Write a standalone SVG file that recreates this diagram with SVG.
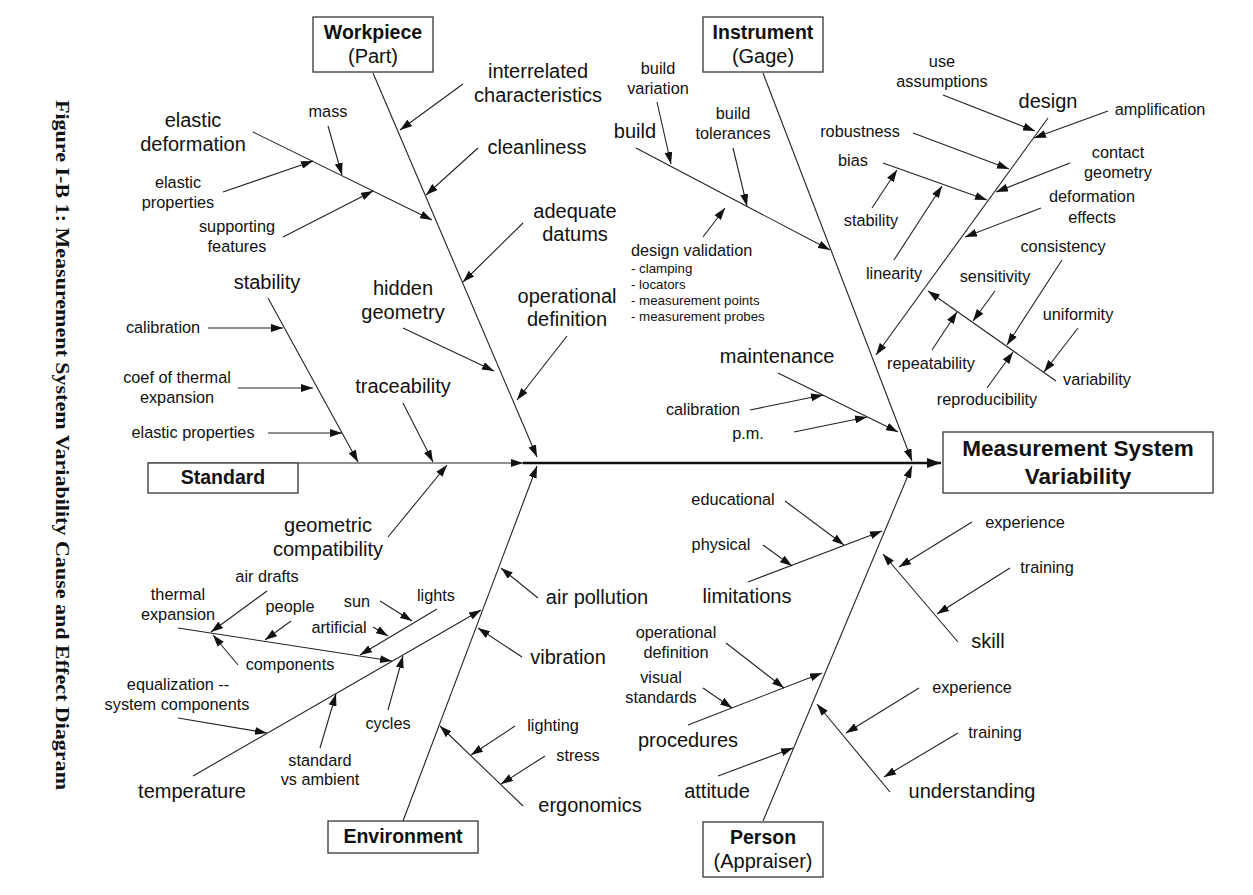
<svg xmlns="http://www.w3.org/2000/svg" width="1253" height="895" viewBox="0 0 1253 895">
<style>
text{font-family:"Liberation Sans",Arial,sans-serif;fill:#111;text-anchor:middle}
.big{font-size:20px}
.sm{font-size:16.3px}
.xs{font-size:13.3px;text-anchor:start}
.dv{font-size:16.3px;text-anchor:start}
.bt{font-size:19.5px;font-weight:bold}
.eff{font-size:22.5px;font-weight:bold}
.title{font-family:"Liberation Serif","Times New Roman",serif;font-size:18px;font-weight:bold}
.box{fill:#fff;stroke:#444;stroke-width:1.4}
#connectors line{stroke:#222;stroke-width:1.1;marker-end:url(#ah)}
#connectors line.main{stroke:#111;stroke-width:2.6;marker-end:url(#ahb)}
</style>
<defs>
<marker id="ah" viewBox="0 0 12 8" refX="12" refY="4" markerWidth="12" markerHeight="8" markerUnits="userSpaceOnUse" orient="auto"><path d="M0,0 L12,4 L0,8 z" fill="#111"/></marker>
<marker id="ahb" viewBox="0 0 14 10" refX="14" refY="5" markerWidth="14" markerHeight="10" markerUnits="userSpaceOnUse" orient="auto"><path d="M0,0 L14,5 L0,10 z" fill="#111"/></marker>
</defs>
<rect width="1253" height="895" fill="#fff"/>

<g id="title"><text class="title" transform="translate(62,445) rotate(90)" x="0" y="6" textLength="690" lengthAdjust="spacingAndGlyphs">Figure I-B 1: Measurement System Variability Cause and Effect Diagram</text></g>

<g id="connectors">
<line x1="373" y1="73" x2="537" y2="457"/>
<line x1="763" y1="73" x2="912" y2="461"/>
<line x1="763" y1="821" x2="912" y2="466"/>
<line x1="403" y1="821" x2="537" y2="466"/>
<line x1="148" y1="463" x2="523" y2="463"/>
<line class="main" x1="523" y1="463" x2="941" y2="463"/>

<line x1="253" y1="132" x2="432" y2="220"/>
<line x1="328" y1="126" x2="342" y2="175"/>
<line x1="223" y1="192" x2="313" y2="161"/>
<line x1="283" y1="237" x2="373" y2="191"/>
<line x1="463" y1="84" x2="400" y2="130"/>
<line x1="478" y1="148" x2="426" y2="195"/>
<line x1="523" y1="223" x2="463" y2="282"/>
<line x1="403" y1="328" x2="494" y2="371"/>
<line x1="567" y1="336" x2="517" y2="400"/>

<line x1="268" y1="298" x2="358" y2="462"/>
<line x1="208" y1="328" x2="283" y2="328"/>
<line x1="238" y1="388" x2="313" y2="388"/>
<line x1="268" y1="433" x2="342" y2="433"/>
<line x1="403" y1="403" x2="433" y2="462"/>
<line x1="388" y1="537" x2="447" y2="465"/>

<line x1="538" y1="598" x2="501" y2="568"/>
<line x1="522" y1="657" x2="478" y2="628"/>
<line x1="523" y1="806" x2="440" y2="726"/>
<line x1="515" y1="726" x2="471" y2="755"/>
<line x1="545" y1="756" x2="501" y2="784"/>
<line x1="193" y1="776" x2="481" y2="610"/>
<line x1="178" y1="718" x2="267" y2="733"/>
<line x1="320" y1="748" x2="336" y2="694"/>
<line x1="388" y1="710" x2="403" y2="656"/>
<line x1="178" y1="628" x2="392" y2="661"/>
<line x1="267" y1="591" x2="211" y2="632"/>
<line x1="291" y1="621" x2="265" y2="640"/>
<line x1="238" y1="665" x2="213" y2="635"/>
<line x1="437" y1="609" x2="360" y2="655"/>
<line x1="380" y1="601" x2="412" y2="621"/>
<line x1="373" y1="627" x2="388" y2="636"/>

<line x1="748" y1="582" x2="882" y2="531"/>
<line x1="785" y1="501" x2="844" y2="545"/>
<line x1="763" y1="545" x2="792" y2="566"/>
<line x1="688" y1="725" x2="822" y2="673"/>
<line x1="726" y1="643" x2="784" y2="688"/>
<line x1="703" y1="688" x2="732" y2="708"/>
<line x1="718" y1="776" x2="793" y2="748"/>
<line x1="958" y1="642" x2="883" y2="554"/>
<line x1="972" y1="522" x2="899" y2="567"/>
<line x1="1010" y1="568" x2="937" y2="614"/>
<line x1="890" y1="792" x2="817" y2="704"/>
<line x1="919" y1="688" x2="846" y2="733"/>
<line x1="958" y1="733" x2="884" y2="777"/>

<line x1="636" y1="148" x2="830" y2="250"/>
<line x1="657" y1="102" x2="671" y2="164"/>
<line x1="733" y1="148" x2="747" y2="206"/>
<line x1="703" y1="237" x2="725" y2="208"/>
<line x1="778" y1="373" x2="898" y2="432"/>
<line x1="750" y1="410" x2="823" y2="395"/>
<line x1="794" y1="432" x2="867" y2="417"/>
<line x1="1048" y1="118" x2="876" y2="355"/>
<line x1="943" y1="95" x2="1035" y2="131"/>
<line x1="1108" y1="111" x2="1034" y2="138"/>
<line x1="913" y1="133" x2="1009" y2="169"/>
<line x1="1070" y1="163" x2="996" y2="192"/>
<line x1="883" y1="163" x2="987" y2="200"/>
<line x1="872" y1="208" x2="897" y2="170"/>
<line x1="894" y1="260" x2="942" y2="186"/>
<line x1="1041" y1="208" x2="965" y2="237"/>
<line x1="1056" y1="381" x2="928" y2="291"/>
<line x1="995" y1="291" x2="973" y2="321"/>
<line x1="1062" y1="260" x2="1007" y2="345"/>
<line x1="1078" y1="328" x2="1044" y2="372"/>
<line x1="932" y1="350" x2="957" y2="312"/>
<line x1="987" y1="388" x2="1013" y2="352"/>
</g>

<g id="workpiece"><rect class="box" x="313" y="17" width="120" height="55"/><text class="bt" x="373" y="39">Workpiece</text><text class="big" x="373" y="63">(Part)</text></g>
<g id="instrument"><rect class="box" x="703" y="17" width="120" height="55"/><text class="bt" x="763" y="39">Instrument</text><text class="big" x="763" y="63">(Gage)</text></g>
<g id="standard"><rect class="box" x="148" y="463" width="150" height="30"/><text class="bt" x="223" y="484">Standard</text></g>
<g id="environment"><rect class="box" x="328" y="821" width="150" height="32"/><text class="bt" x="403" y="843">Environment</text></g>
<g id="person"><rect class="box" x="703" y="822" width="120" height="55"/><text class="bt" x="763" y="844">Person</text><text class="big" x="763" y="868">(Appraiser)</text></g>
<g id="effect"><rect class="box" x="943" y="432" width="270" height="61"/><text class="eff" x="1078" y="456">Measurement System</text><text class="eff" x="1078" y="484">Variability</text></g>

<g id="elastic-deformation"><text class="big" x="193" y="127">elastic</text><text class="big" x="193" y="151">deformation</text></g>
<g id="mass"><text class="sm" x="328" y="117">mass</text></g>
<g id="elastic-properties-1"><text class="sm" x="178" y="188">elastic</text><text class="sm" x="178" y="208">properties</text></g>
<g id="supporting-features"><text class="sm" x="237" y="232">supporting</text><text class="sm" x="237" y="252">features</text></g>
<g id="interrelated"><text class="big" x="538" y="78">interrelated</text><text class="big" x="538" y="102">characteristics</text></g>
<g id="cleanliness"><text class="big" x="537" y="154">cleanliness</text></g>
<g id="adequate-datums"><text class="big" x="575" y="218">adequate</text><text class="big" x="575" y="241">datums</text></g>
<g id="hidden-geometry"><text class="big" x="403" y="295">hidden</text><text class="big" x="403" y="319">geometry</text></g>
<g id="operational-definition-1"><text class="big" x="567" y="303">operational</text><text class="big" x="567" y="326">definition</text></g>

<g id="stability-1"><text class="big" x="267" y="289">stability</text></g>
<g id="calibration-1"><text class="sm" x="163" y="333">calibration</text></g>
<g id="coef"><text class="sm" x="177" y="383">coef of thermal</text><text class="sm" x="177" y="403">expansion</text></g>
<g id="elastic-properties-2"><text class="sm" x="193" y="438">elastic properties</text></g>
<g id="traceability"><text class="big" x="403" y="393">traceability</text></g>
<g id="geometric-compatibility"><text class="big" x="328" y="532">geometric</text><text class="big" x="328" y="556">compatibility</text></g>

<g id="air-pollution"><text class="big" x="597" y="604">air pollution</text></g>
<g id="vibration"><text class="big" x="568" y="664">vibration</text></g>
<g id="ergonomics"><text class="big" x="590" y="812">ergonomics</text></g>
<g id="lighting"><text class="sm" x="553" y="731">lighting</text></g>
<g id="stress"><text class="sm" x="578" y="761">stress</text></g>
<g id="temperature"><text class="big" x="192" y="798">temperature</text></g>
<g id="equalization"><text class="sm" x="178" y="690">equalization --</text><text class="sm" x="177" y="710">system components</text></g>
<g id="standard-vs-ambient"><text class="sm" x="320" y="766">standard</text><text class="sm" x="320" y="785">vs ambient</text></g>
<g id="cycles"><text class="sm" x="388" y="729">cycles</text></g>
<g id="thermal-expansion"><text class="sm" x="178" y="600">thermal</text><text class="sm" x="178" y="620">expansion</text></g>
<g id="air-drafts"><text class="sm" x="267" y="582">air drafts</text></g>
<g id="people"><text class="sm" x="290" y="612">people</text></g>
<g id="components"><text class="sm" x="290" y="670">components</text></g>
<g id="lights"><text class="sm" x="436" y="601">lights</text></g>
<g id="sun"><text class="sm" x="357" y="607">sun</text></g>
<g id="artificial"><text class="sm" x="339" y="633">artificial</text></g>

<g id="limitations"><text class="big" x="747" y="603">limitations</text></g>
<g id="educational"><text class="sm" x="733" y="505">educational</text></g>
<g id="physical"><text class="sm" x="721" y="550">physical</text></g>
<g id="procedures"><text class="big" x="688" y="747">procedures</text></g>
<g id="operational-definition-2"><text class="sm" x="676" y="638">operational</text><text class="sm" x="676" y="658">definition</text></g>
<g id="visual-standards"><text class="sm" x="661" y="683">visual</text><text class="sm" x="661" y="703">standards</text></g>
<g id="attitude"><text class="big" x="717" y="798">attitude</text></g>
<g id="skill"><text class="big" x="988" y="648">skill</text></g>
<g id="experience-1"><text class="sm" x="1025" y="528">experience</text></g>
<g id="training-1"><text class="sm" x="1047" y="573">training</text></g>
<g id="understanding"><text class="big" x="972" y="798">understanding</text></g>
<g id="experience-2"><text class="sm" x="972" y="693">experience</text></g>
<g id="training-2"><text class="sm" x="995" y="738">training</text></g>

<g id="build"><text class="big" x="635" y="138">build</text></g>
<g id="build-variation"><text class="sm" x="658" y="74">build</text><text class="sm" x="658" y="94">variation</text></g>
<g id="build-tolerances"><text class="sm" x="733" y="119">build</text><text class="sm" x="733" y="139">tolerances</text></g>
<g id="design-validation"><text class="dv" x="631" y="256">design validation</text><text class="xs" x="631" y="273">- clamping</text><text class="xs" x="631" y="289">- locators</text><text class="xs" x="631" y="305">- measurement points</text><text class="xs" x="631" y="321">- measurement probes</text></g>
<g id="maintenance"><text class="big" x="777" y="363">maintenance</text></g>
<g id="calibration-2"><text class="sm" x="703" y="415">calibration</text></g>
<g id="pm"><text class="sm" x="748" y="439">p.m.</text></g>
<g id="design"><text class="big" x="1048" y="108">design</text></g>
<g id="use-assumptions"><text class="sm" x="942" y="67">use</text><text class="sm" x="942" y="87">assumptions</text></g>
<g id="amplification"><text class="sm" x="1160" y="115">amplification</text></g>
<g id="robustness"><text class="sm" x="860" y="137">robustness</text></g>
<g id="contact-geometry"><text class="sm" x="1118" y="158">contact</text><text class="sm" x="1118" y="178">geometry</text></g>
<g id="bias"><text class="sm" x="853" y="166">bias</text></g>
<g id="stability-2"><text class="sm" x="871" y="226">stability</text></g>
<g id="linearity"><text class="sm" x="894" y="279">linearity</text></g>
<g id="deformation-effects"><text class="sm" x="1092" y="202">deformation</text><text class="sm" x="1092" y="223">effects</text></g>
<g id="variability"><text class="sm" x="1097" y="385">variability</text></g>
<g id="sensitivity"><text class="sm" x="995" y="282">sensitivity</text></g>
<g id="consistency"><text class="sm" x="1063" y="252">consistency</text></g>
<g id="uniformity"><text class="sm" x="1078" y="320">uniformity</text></g>
<g id="repeatability"><text class="sm" x="931" y="369">repeatability</text></g>
<g id="reproducibility"><text class="sm" x="987" y="405">reproducibility</text></g>
</svg>
